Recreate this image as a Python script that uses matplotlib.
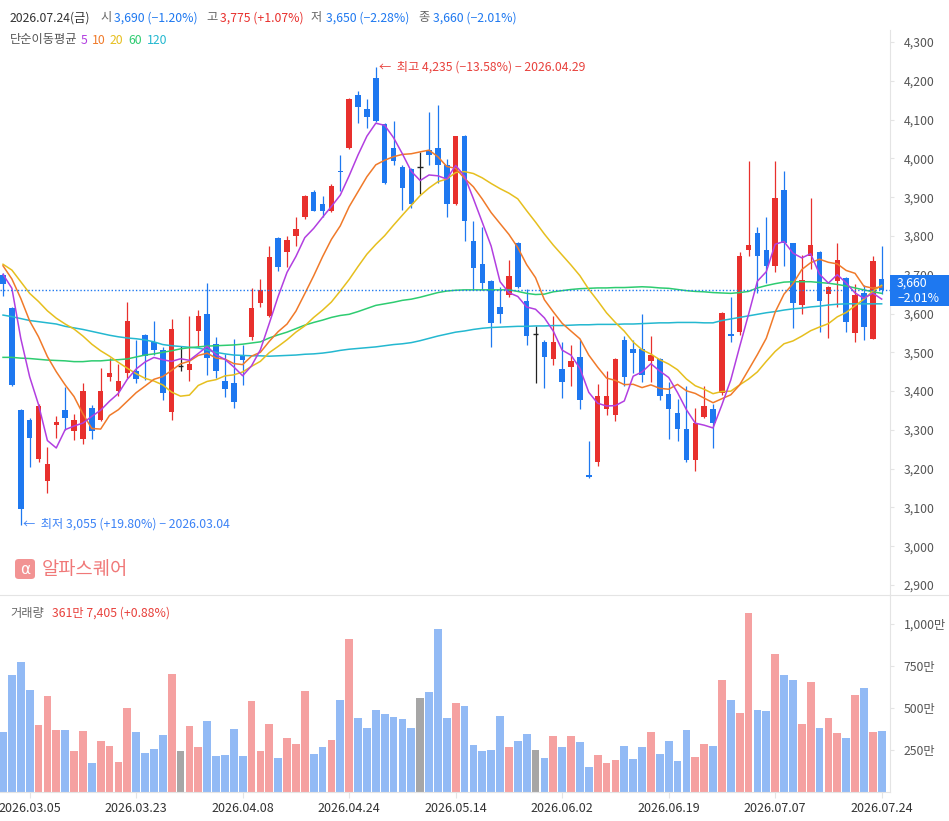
import matplotlib
matplotlib.use("Agg")
import matplotlib.pyplot as plt
import numpy as np
from matplotlib.patches import FancyBboxPatch, Rectangle
from matplotlib.lines import Line2D

plt.rcParams['font.family'] = ['Noto Sans CJK KR', 'DejaVu Sans']

# ---------------- data ----------------
opens = [3700, 3614, 3351, 3325, 3224, 3169, 3313, 3351, 3298, 3276,
         3356, 3326, 3436, 3401, 3447, 3452, 3545, 3527, 3506, 3347,
         3465, 3454, 3556, 3599, 3521, 3426, 3421, 3490, 3540, 3626,
         3594, 3795, 3759, 3800, 3850, 3913, 3882, 3865, 3968, 4027,
         4163, 4127, 4207, 4089, 4027, 3978, 3973, 3977, 4022, 4027,
         3982, 3882, 4058, 3787, 3728, 3684, 3617, 3648, 3783, 3632,
         3546, 3527, 3484, 3457, 3463, 3488, 3183, 3218, 3355, 3338,
         3532, 3509, 3509, 3478, 3483, 3393, 3344, 3302, 3222, 3334,
         3353, 3394, 3548, 3553, 3764, 3807, 3764, 3723, 3918, 3781,
         3622, 3748, 3759, 3650, 3685, 3691, 3549, 3652, 3534, 3690]
highs = [3705, 3616, 3353, 3330, 3366, 3255, 3336, 3410, 3341, 3420,
         3364, 3459, 3485, 3469, 3629, 3532, 3548, 3581, 3515, 3586,
         3516, 3594, 3609, 3679, 3539, 3496, 3534, 3519, 3667, 3689,
         3775, 3797, 3800, 3849, 3905, 3918, 3903, 3934, 4009, 4155,
         4174, 4153, 4235, 4091, 4096, 3982, 3975, 4017, 4119, 4138,
         3998, 4058, 4060, 3839, 3824, 3686, 3669, 3738, 3785, 3662,
         3568, 3532, 3594, 3527, 3519, 3532, 3271, 3418, 3451, 3485,
         3542, 3532, 3599, 3542, 3486, 3423, 3380, 3414, 3357, 3413,
         3367, 3603, 3643, 3759, 3993, 3822, 3848, 3993, 3967, 3783,
         3752, 3897, 3760, 3670, 3781, 3693, 3675, 3674, 3748, 3775]
lows = [3645, 3414, 3055, 3205, 3218, 3138, 3278, 3300, 3274, 3263,
        3276, 3324, 3427, 3388, 3433, 3422, 3429, 3492, 3377, 3325,
        3453, 3427, 3515, 3442, 3433, 3384, 3357, 3416, 3532, 3618,
        3592, 3710, 3721, 3774, 3844, 3865, 3850, 3863, 3917, 4025,
        4090, 4079, 4094, 3935, 3984, 3867, 3873, 3908, 3983, 3936,
        3850, 3880, 3787, 3661, 3661, 3515, 3575, 3643, 3665, 3519,
        3420, 3409, 3467, 3383, 3414, 3354, 3175, 3207, 3338, 3323,
        3414, 3446, 3424, 3424, 3377, 3276, 3272, 3216, 3193, 3330,
        3254, 3390, 3527, 3545, 3748, 3653, 3679, 3708, 3723, 3563,
        3599, 3714, 3553, 3538, 3618, 3553, 3527, 3532, 3534, 3650]
closes = [3675, 3416, 3095, 3278, 3362, 3212, 3320, 3331, 3325, 3400,
          3298, 3400, 3447, 3426, 3581, 3431, 3490, 3506, 3396, 3560,
          3465, 3470, 3594, 3486, 3453, 3406, 3373, 3480, 3614, 3660,
          3746, 3721, 3790, 3818, 3903, 3865, 3865, 3929, 3964, 4153,
          4133, 4107, 4096, 3937, 3994, 3924, 3882, 3977, 4009, 3983,
          3882, 4058, 3839, 3718, 3679, 3575, 3600, 3697, 3669, 3543,
          3546, 3489, 3527, 3423, 3478, 3377, 3179, 3387, 3387, 3483,
          3437, 3498, 3442, 3493, 3388, 3355, 3303, 3222, 3319, 3362,
          3319, 3601, 3543, 3748, 3777, 3748, 3723, 3897, 3783, 3628,
          3686, 3777, 3633, 3668, 3737, 3579, 3648, 3564, 3735, 3660]
# volume in 만 (10,000 shares)
volumes = [355, 694, 771, 605, 396, 569, 367, 367, 242, 361,
           170, 301, 271, 176, 497, 355, 230, 253, 337, 700,
           242, 390, 265, 420, 212, 218, 372, 212, 539, 242,
           402, 200, 319, 283, 598, 224, 265, 307, 545, 908,
           438, 378, 486, 462, 444, 432, 378, 557, 593, 967,
           438, 527, 509, 277, 242, 248, 450, 265, 301, 343,
           248, 200, 331, 265, 331, 295, 146, 218, 170, 188,
           271, 194, 265, 355, 224, 301, 182, 367, 206, 283,
           271, 664, 545, 468, 1063, 486, 480, 819, 694, 664,
           402, 652, 378, 438, 349, 319, 575, 616, 358.6, 361.7]

# moving-average values before enough visible sessions exist
ma5_head = [3701, 3665, 3536, 3437]
ma10_head = [3723, 3689, 3639, 3581, 3540, 3489, 3450, 3416, 3386]
ma20_head = [3727, 3712, 3682, 3652, 3631, 3607, 3588, 3573, 3560, 3542,
             3521, 3504, 3490, 3474, 3459, 3445, 3433, 3426, 3416]
ma60 = [3487, 3487, 3485, 3484, 3482, 3480, 3479, 3478, 3476, 3476,
        3478, 3478, 3480, 3481, 3483, 3488, 3493, 3496, 3500, 3504,
        3509, 3512, 3514, 3516, 3517, 3518, 3519, 3521, 3524, 3527,
        3537, 3545, 3552, 3561, 3570, 3577, 3583, 3590, 3595, 3598,
        3605, 3613, 3621, 3625, 3629, 3634, 3637, 3642, 3648, 3654,
        3658, 3660, 3661, 3661, 3661, 3661, 3661, 3661, 3657, 3652,
        3649, 3650, 3656, 3659, 3662, 3664, 3665, 3666, 3666, 3667,
        3667, 3668, 3669, 3668, 3666, 3665, 3662, 3659, 3657, 3656,
        3654, 3653, 3652, 3654, 3657, 3666, 3672, 3677, 3681, 3682,
        3682, 3682, 3680, 3678, 3675, 3671, 3666, 3661, 3656, 3652]
ma120 = [3596, 3592, 3587, 3582, 3579, 3576, 3573, 3567, 3563, 3559,
         3554, 3549, 3544, 3540, 3537, 3535, 3532, 3527, 3520, 3517,
         3515, 3513, 3511, 3506, 3500, 3496, 3493, 3492, 3491, 3491,
         3490, 3491, 3492, 3493, 3495, 3496, 3498, 3501, 3505, 3508,
         3510, 3512, 3514, 3517, 3520, 3522, 3525, 3530, 3536, 3542,
         3547, 3552, 3555, 3559, 3562, 3564, 3565, 3566, 3567, 3567,
         3568, 3568, 3569, 3569, 3570, 3571, 3571, 3572, 3572, 3572,
         3573, 3573, 3574, 3575, 3576, 3576, 3577, 3577, 3577, 3576,
         3576, 3582, 3586, 3590, 3594, 3598, 3602, 3605, 3609, 3612,
         3614, 3617, 3619, 3622, 3624, 3625, 3625, 3625, 3625, 3625]

tick_idx = [3, 15, 27, 39, 51, 63, 75, 87, 99]
tick_labels = ['2026.03.05', '2026.03.23', '2026.04.08', '2026.04.24', '2026.05.14',
               '2026.06.02', '2026.06.19', '2026.07.07', '2026.07.24']
price_ticks = list(range(2900, 4301, 100))
vol_ticks = [250, 500, 750, 1000]
last_price = 3660

# ---------------- styling ----------------
RED = '#e8302d'
BLUE = '#1e78f0'
BLACK = '#222222'
VRED = '#f5a1a1'
VBLUE = '#92baf5'
VGRAY = '#a6a6a6'
MA_COLORS = {'5': '#b23fe0', '10': '#f07a2a', '20': '#e6bf1e', '60': '#2ecc71', '120': '#24b8d0'}
GRID = '#e4e4e4'

W, H = 949, 821
fig = plt.figure(figsize=(W / 100, H / 100), dpi=100)


def fy(py):
    return 1 - py / H


TOP, MID, BOT, RIGHT = 30, 595, 792, 890
ax = fig.add_axes([0, fy(MID), RIGHT / W, (MID - TOP) / H])
axv = fig.add_axes([0, fy(BOT), RIGHT / W, (BOT - MID) / H])

n = len(closes)
idx = np.arange(n)
o = np.array(opens, float)
h = np.array(highs, float)
l = np.array(lows, float)
c = np.array(closes, float)

colors = np.where(c > o, RED, np.where(c < o, BLUE, BLACK))
vcolors = np.where(c > o, VRED, np.where(c < o, VBLUE, VGRAY))

# candles
ax.vlines(idx, l, h, colors=colors, linewidth=0.9, zorder=2)
doji = c == o
body_bottom = np.minimum(o, c)
body_h = np.abs(c - o)
ax.bar(idx[~doji], body_h[~doji], bottom=body_bottom[~doji], width=0.62,
       color=colors[~doji], linewidth=0, zorder=2)
ax.hlines(o[doji], idx[doji] - 0.33, idx[doji] + 0.33, colors=BLACK, linewidth=1.0, zorder=2)


def sma(head, k):
    out = np.empty(n)
    out[:k - 1] = head
    for i in range(k - 1, n):
        out[i] = c[i - k + 1:i + 1].mean()
    return out


ax.plot(idx, ma120, color=MA_COLORS['120'], lw=1.1, zorder=3)
ax.plot(idx, ma60, color=MA_COLORS['60'], lw=1.1, zorder=3)
ax.plot(idx, sma(ma20_head, 20), color=MA_COLORS['20'], lw=1.1, zorder=3)
ax.plot(idx, sma(ma10_head, 10), color=MA_COLORS['10'], lw=1.1, zorder=3)
ax.plot(idx, sma(ma5_head, 5), color=MA_COLORS['5'], lw=1.1, zorder=3)

ax.axhline(last_price, color=BLUE, lw=1.0, ls=(0, (1, 1.5)), zorder=4)

xlim = (-0.34, 99.94)
ax.set_xlim(*xlim)
ax.set_ylim(2874.4, 4330.9)
for s in ['top', 'left', 'bottom']:
    ax.spines[s].set_visible(False)
ax.spines['right'].set_color(GRID)
ax.yaxis.tick_right()
ax.set_yticks(price_ticks)
ax.set_yticklabels([f'{t:,}' for t in price_ticks])
ax.tick_params(axis='y', length=3, width=0.8, color=GRID, labelcolor='#555555',
               labelsize=8.8, pad=7)
ax.tick_params(axis='x', bottom=False, labelbottom=False)
ax.patch.set_alpha(0)

# volume
axv.bar(idx, volumes, width=0.87, color=vcolors, linewidth=0)
axv.set_xlim(*xlim)
axv.set_ylim(0, 1172)
for s in ['top', 'left']:
    axv.spines[s].set_visible(False)
axv.spines['right'].set_color(GRID)
axv.spines['bottom'].set_color(GRID)
axv.yaxis.tick_right()
axv.set_yticks(vol_ticks)
axv.set_yticklabels([f'{t:,}만' for t in vol_ticks])
axv.tick_params(axis='y', length=3, width=0.8, color=GRID, labelcolor='#555555',
                labelsize=8.8, pad=7)
axv.set_xticks(tick_idx)
axv.set_xticklabels(tick_labels)
axv.tick_params(axis='x', length=4, width=0.8, color=GRID, labelcolor='#333333',
                labelsize=9, pad=3)
axv.patch.set_alpha(0)

# separator line between panels
fig.add_artist(Line2D([0, 1], [fy(MID)] * 2, transform=fig.transFigure, color=GRID, lw=0.8))


def ftext(x, y, s, color, size=8.8, **kw):
    fig.text(x / W, fy(y), s, color=color, fontsize=size, va='center', ha='left', **kw)


# header
ftext(10, 18, '2026.07.24(금)', '#333333')
ftext(100, 18, '시', '#666666')
ftext(114, 18, '3,690 (−1.20%)', BLUE)
ftext(206, 18, '고', '#666666')
ftext(220, 18, '3,775 (+1.07%)', RED)
ftext(311, 18, '저', '#666666')
ftext(326, 18, '3,650 (−2.28%)', BLUE)
ftext(418, 18, '종', '#666666')
ftext(433, 18, '3,660 (−2.01%)', BLUE)

ftext(10, 40, '단순이동평균', '#555555')
ftext(81, 40, '5', MA_COLORS['5'])
ftext(92, 40, '10', MA_COLORS['10'])
ftext(110, 40, '20', MA_COLORS['20'])
ftext(128, 40, '60', MA_COLORS['60'])
ftext(147, 40, '120', MA_COLORS['120'])

# high / low annotations
ftext(379, 67, '←  최고 4,235 (−13.58%) − 2026.04.29', '#e8413c')
ftext(23, 524, '←  최저 3,055 (+19.80%) − 2026.03.04', '#3b82f6')

# volume header
ftext(10, 613, '거래량', '#666666')
ftext(52, 613, '361만 7,405 (+0.88%)', '#e8413c')

# watermark
fig.add_artist(FancyBboxPatch((15 / W, fy(579)), 20 / W, 20 / H,
                              boxstyle='round,pad=0,rounding_size=0.004',
                              transform=fig.transFigure, facecolor='#f29393',
                              edgecolor='none'))
fig.text(25 / W, fy(569.5), 'α', color='white', fontsize=11, ha='center', va='center',
         family=['DejaVu Sans'])
ftext(42, 569, '알파스퀘어', '#f07878', size=13.5)

# last price box
fig.add_artist(Rectangle((RIGHT / W, fy(306)), 59 / W, 31 / H, transform=fig.transFigure,
                         facecolor=BLUE, edgecolor='none', zorder=5))
ftext(897, 283.5, '3,660', 'white', zorder=6)
ftext(897, 298, '−2.01%', 'white', zorder=6)

fig.savefig('out.png', dpi=100)
